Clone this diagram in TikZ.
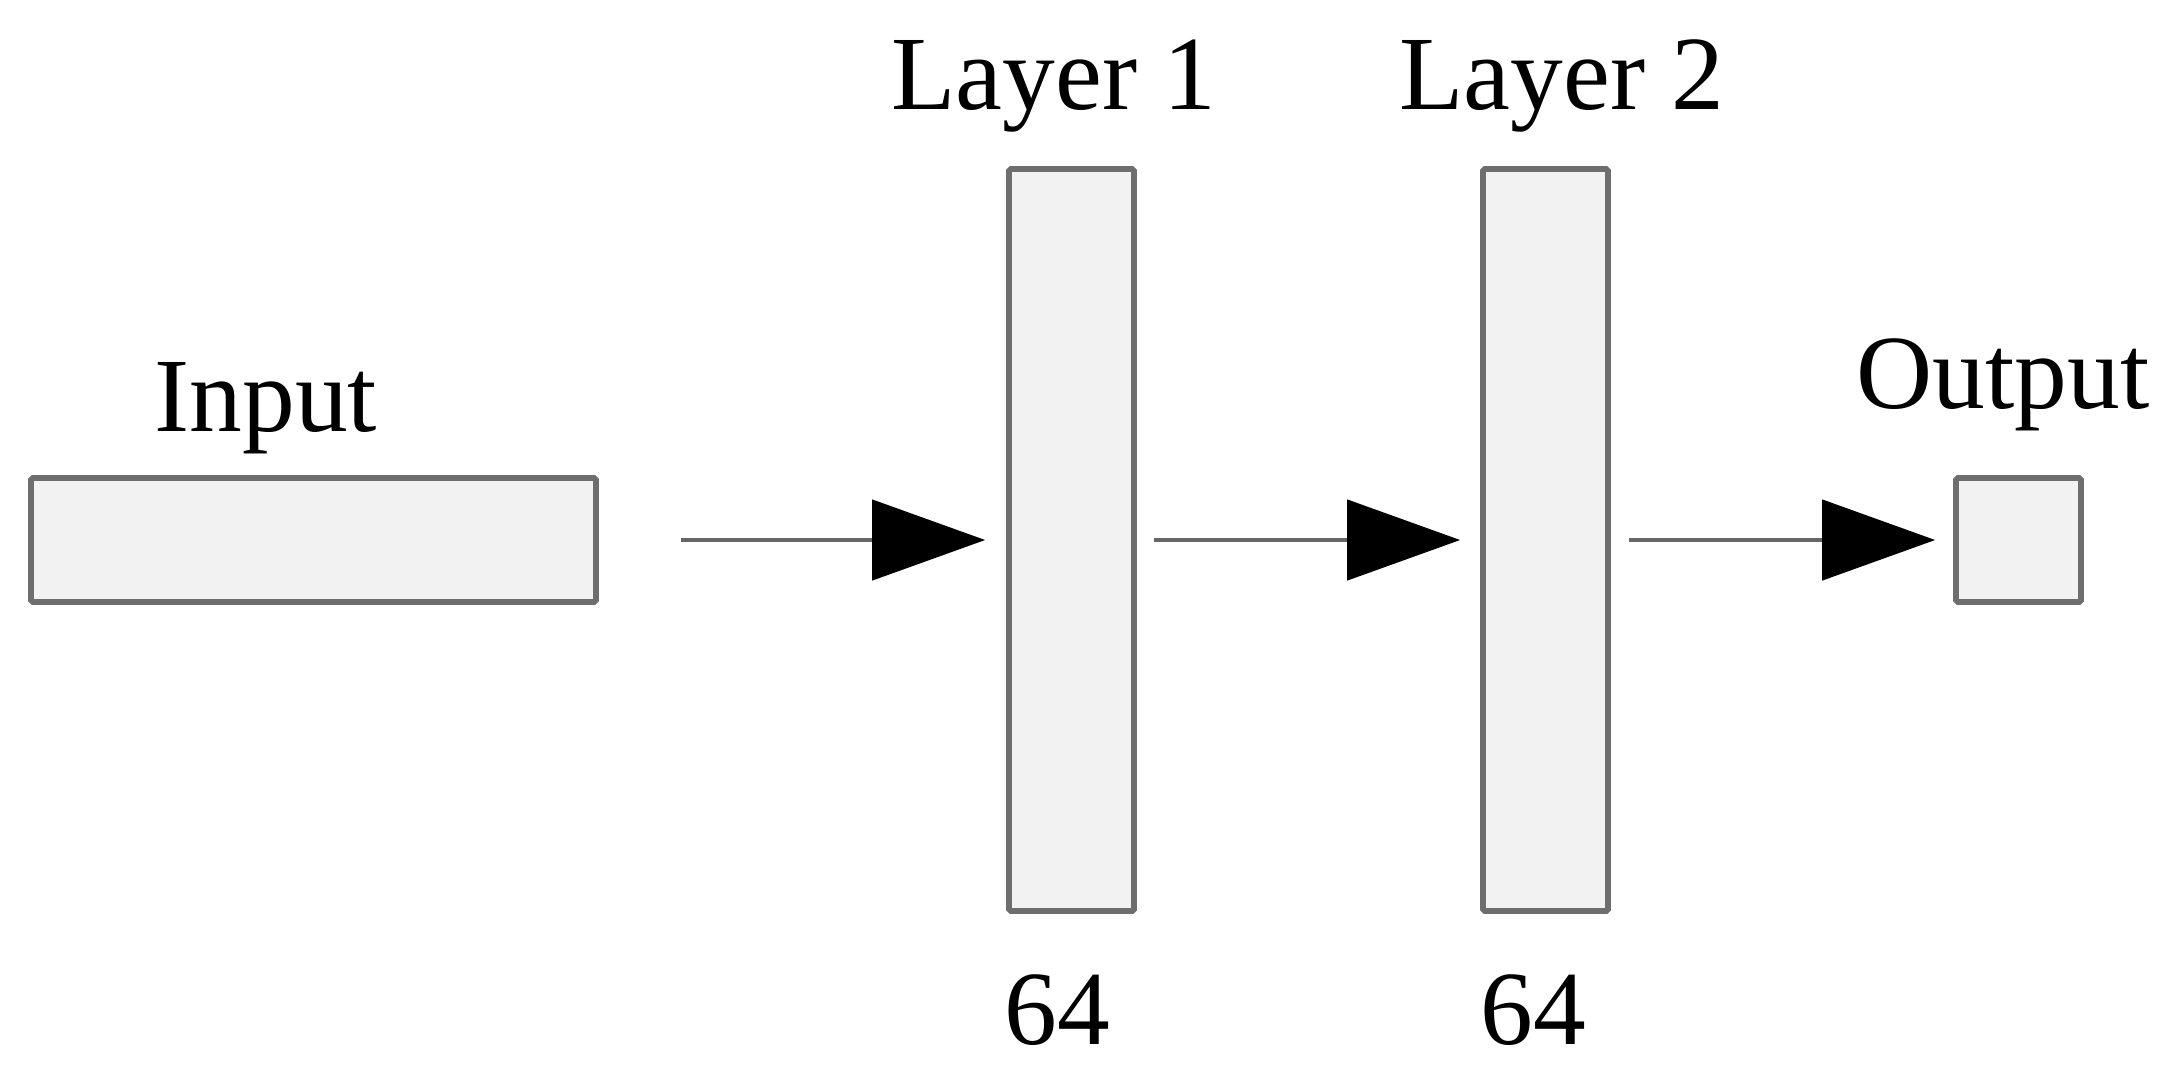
\documentclass[tikz,border=0pt]{standalone}
\usepackage{fontspec}
\setmainfont{Liberation Serif}
\usetikzlibrary{arrows.meta}
\tikzset{>={Triangle[length=1.13cm,width=0.8cm,color=black]}}
\definecolor{boxfill}{HTML}{F2F2F2}
\definecolor{boxline}{HTML}{6E6E6E}

\begin{document}
\begin{tikzpicture}[
    box/.style={draw=boxline,fill=boxfill,line width=1.6pt,inner sep=0pt,
        rounded corners=0.5pt},
    flow/.style={->,draw=black!60,line width=1.3pt},
    lbl/.style={anchor=base,inner sep=0pt,font=\fontsize{30}{36}\selectfont}
]
            \useasboundingbox (0,0) rectangle (21.83,-10.79);
            \node[box,minimum width=5.65cm,minimum height=1.24cm] (in) at (3.135,-5.40) {};
            \node[box,minimum width=1.25cm,minimum height=7.42cm] (l1) at (10.715,-5.40) {};
            \node[box,minimum width=1.25cm,minimum height=7.42cm] (l2) at (15.455,-5.40) {};
            \node[box,minimum width=1.25cm,minimum height=1.24cm] (out) at (20.185,-5.40) {};
            \node[lbl] (inlbl) at (2.66,-4.31) {Input};
            \node[lbl] (l1lbl) at (10.54,-1.09) {Layer 1};
            \node[lbl] (l2lbl) at (15.62,-1.09) {Layer 2};
            \node[lbl] (outlbl) at (20.03,-4.08) {Output};
            \node[lbl] (l1size) at (10.57,-10.44) {64};
            \node[lbl] (l2size) at (15.33,-10.44) {64};
            \draw[flow,shorten <=0.82cm,shorten >=0.21cm] (in.east) -- (l1.west);
            \draw[flow,shorten <=0.17cm,shorten >=0.20cm] (l1.east) -- (l2.west);
            \draw[flow,shorten <=0.18cm,shorten >=0.18cm] (l2.east) -- (out.west);
        \end{tikzpicture}
\end{document}
